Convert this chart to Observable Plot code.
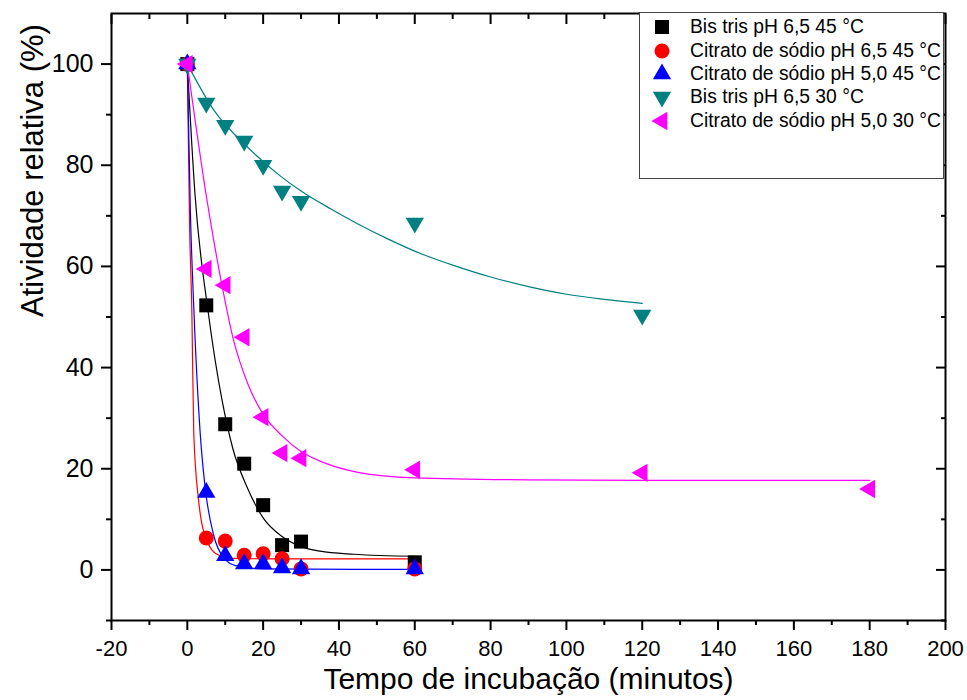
<!DOCTYPE html>
<html><head><meta charset="utf-8">
<script src="https://cdn.jsdelivr.net/npm/d3@7"></script>
<script src="https://cdn.jsdelivr.net/npm/@observablehq/plot@0.6"></script>
<style>
body{margin:0;background:#fff;font-family:"Liberation Sans",Arial,sans-serif;}
#wrap{position:relative;width:967px;height:700px;}
#legend{position:absolute;left:639px;top:12px;width:305px;height:167px;border:1px solid #444;box-sizing:border-box;background:#fff;overflow:hidden;}
#legend .row{position:absolute;left:0;height:24px;}
#legend .row svg{position:absolute;left:10px;top:0;}
#legend .row span{position:absolute;left:50px;white-space:nowrap;font-size:19.3px;color:#000;line-height:24px;top:0;}
</style></head><body><div id="wrap"></div>
<script>
// ---- data ----
const seriesNames = ["Bis tris pH 6,5 45 °C","Citrato de sódio pH 6,5 45 °C","Citrato de sódio pH 5,0 45 °C","Bis tris pH 6,5 30 °C","Citrato de sódio pH 5,0 30 °C"];
const seriesColors = ["#000000","#ff0000","#0000ff","#008080","#ff00ff"];
const seriesSymbols = ["square","circle","triangle","triangle","triangle"];
const seriesRotate = [0,0,0,180,-90];
const seriesR = [7.9,7.5,6.8,6.8,6.8];

const t45 = [0,5,10,15,20,25,30,60];
const bisTris45 = [100,52.3,28.8,21,12.8,4.9,5.6,1.5];
const citrato65_45 = [100,6.3,5.7,2.9,3.2,2.2,0.2,0.2];
const citrato50_45 = [100,15.3,2.8,1.2,1.2,0.4,0.2,0.2];
const tBis30 = [0,5,10,15,20,25,30,60,120];
const bisTris30 = [100,92.3,87.9,84.8,80,74.9,72.9,68.6,50.4];
const tCit30 = [0,5,10,15,20,25,30,60,120,180];
const citrato50_30 = [100,59.5,56.3,46,30.2,23.1,22.1,19.8,19.2,16];

// fitted curves
const fitBis45X = [0,2,5.6,9.2,12,15.8,20,25,30,35,44,60];
const fitBis45Y = [100,74.5,50.5,33.4,24,16.3,10.3,6.6,4.6,3.7,3.1,2.7];
const fitCit65X = [0,0.6,1.2,1.7,3,5.2,7.8,12,20,60];
const fitCit65Y = [100,68,51,27,13.6,5.7,3.1,2.3,2.2,2.2];
const fitCit50X = [0,0.8,1.7,3.4,4.7,6.9,9.6,13,20,60];
const fitCit50Y = [100,71,52,27,16.3,7,2.4,0.8,0.2,0.1];
const fitBis30X = [0,7,16,24.5,30,38,45,53,62,71,80,90,100,110,120];
const fitBis30Y = [100,90.9,83.5,77.9,74.9,71.3,68.4,65.4,62.4,60,57.9,56,54.5,53.5,52.7];
const fitCit30X = [0,5,10,12,16,20,25,30,36,45,60,90,120,180];
const fitCit30Y = [100,74,53,46,36.7,30.8,26.5,23.4,21.2,19.3,18.2,17.8,17.7,17.7];

const xTicks = [-20,0,20,40,60,80,100,120,140,160,180,200];
const xMinorTicks = [-10,10,30,50,70,90,110,130,150,170,190];
const yTicks = [0,20,40,60,80,100];
const yMinorTicks = [-10,10,30,50,70,90];

// ---- build ----
const zip = (xs, ys) => xs.map((x, i) => ({x, y: ys[i]}));
const pts = [zip(t45,bisTris45), zip(t45,citrato65_45), zip(t45,citrato50_45), zip(tBis30,bisTris30), zip(tCit30,citrato50_30)];
const fits = [zip(fitBis45X,fitBis45Y), zip(fitCit65X,fitCit65Y), zip(fitCit50X,fitCit50Y), zip(fitBis30X,fitBis30Y), zip(fitCit30X,fitCit30Y)];

const font = "'Liberation Sans', Arial, sans-serif";
const fmt = d => String(d);
const blank = () => "";
const chart = Plot.plot({
  width: 967, height: 700,
  marginLeft: 111, marginRight: 22, marginTop: 13, marginBottom: 80,
  style: {fontFamily: font, color: "#000", background: "#fff", overflow: "visible"},
  x: {domain: [-20, 200]},
  y: {domain: [-10, 110]},
  marks: [
    ...fits.map((f, i) => Plot.line(f, {x: "x", y: "y", stroke: seriesColors[i], strokeWidth: 1.2, curve: "monotone-x"})),
    ...pts.map((p, i) => Plot.dot(p, {x: "x", y: "y", symbol: seriesSymbols[i], fill: seriesColors[i], r: seriesR[i], rotate: seriesRotate[i], stroke: "none"})),
    Plot.axisX(xTicks, {anchor: "bottom", tickSize: 10, tickPadding: 10, fontSize: 22, strokeWidth: 2, tickFormat: fmt, label: null}),
    Plot.axisX(xMinorTicks, {anchor: "bottom", tickSize: 5, strokeWidth: 2, tickFormat: blank, label: null}),
    Plot.axisX(xTicks, {anchor: "top", tickSize: -10, strokeWidth: 2, tickFormat: blank, label: null}),
    Plot.axisX(xMinorTicks, {anchor: "top", tickSize: -5, strokeWidth: 2, tickFormat: blank, label: null}),
    Plot.axisY(yTicks, {anchor: "left", tickSize: 10, tickPadding: 8, fontSize: 25, strokeWidth: 2, tickFormat: fmt, label: null}),
    Plot.axisY(yMinorTicks, {anchor: "left", tickSize: 5, strokeWidth: 2, tickFormat: blank, label: null}),
    Plot.axisY(yTicks, {anchor: "right", tickSize: -10, strokeWidth: 2, tickFormat: blank, label: null}),
    Plot.axisY(yMinorTicks, {anchor: "right", tickSize: -5, strokeWidth: 2, tickFormat: blank, label: null}),
    Plot.frame({strokeWidth: 2, stroke: "#000"}),
    Plot.text(["Tempo de incubação (minutos)"], {frameAnchor: "bottom", dy: 68, fontSize: 30, fill: "#000"}),
    Plot.text(["Atividade relativa (%)"], {frameAnchor: "left", dx: -78, rotate: -90, fontSize: 31, fill: "#000"})
  ]
});
const wrap = document.getElementById("wrap");
wrap.appendChild(chart);

// legend
const leg = document.createElement("div");
leg.id = "legend";
const rowTops = [2, 26, 49, 72, 96];
seriesNames.forEach((name, i) => {
  const row = document.createElement("div");
  row.className = "row";
  row.style.top = rowTops[i] + "px";
  const r = seriesR[i];
  const sym = {square: d3.symbolSquare, circle: d3.symbolCircle, triangle: d3.symbolTriangle}[seriesSymbols[i]];
  const path = d3.symbol(sym, Math.PI * r * r)();
  row.innerHTML = `<svg width="24" height="24" viewBox="-12 -12 24 24"><path d="${path}" fill="${seriesColors[i]}" transform="rotate(${seriesRotate[i]})"/></svg><span>${name}</span>`;
  leg.appendChild(row);
});
wrap.appendChild(leg);
</script>
</body></html>
